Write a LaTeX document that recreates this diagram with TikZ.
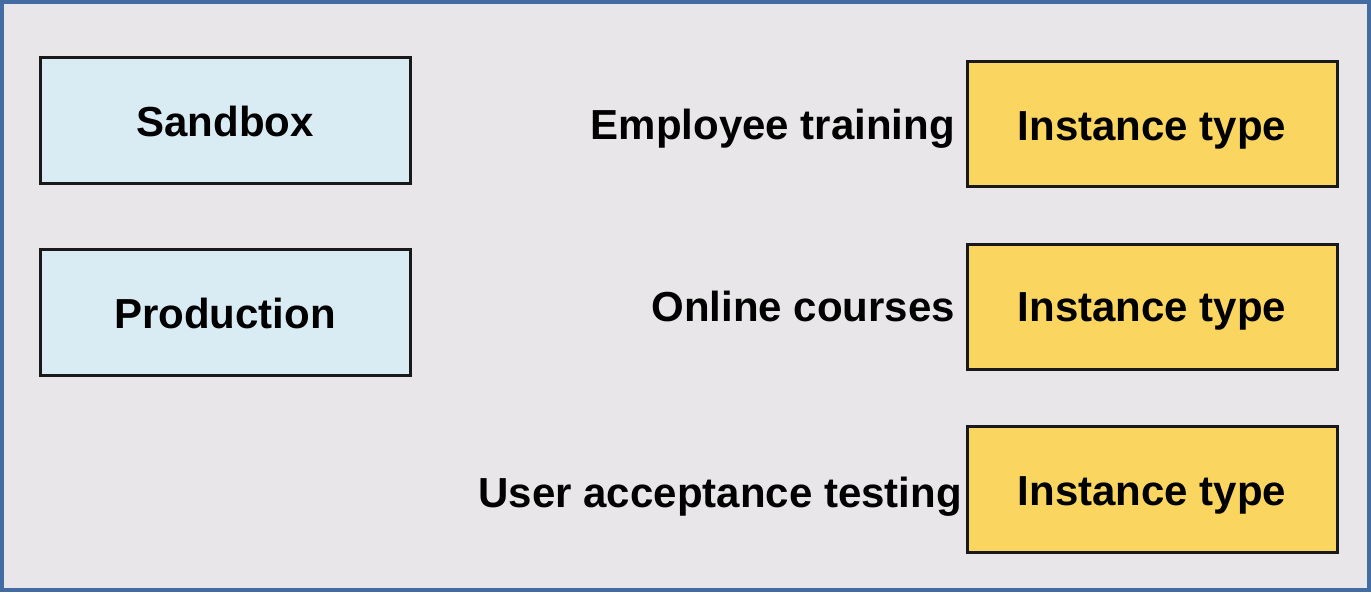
\documentclass[tikz,border=0pt]{standalone}
\usepackage{fontspec}
\setmainfont{Liberation Sans}
\definecolor{bgc}{RGB}{232,230,232}
\definecolor{framec}{RGB}{66,108,162}
\definecolor{bluebox}{RGB}{217,236,244}
\definecolor{yellowbox}{RGB}{250,213,95}
\tikzset{
  boxstyle/.style={draw=black!90, line width=3pt},
  lbl/.style={font=\fontsize{42}{50}\selectfont\bfseries, inner sep=0pt, anchor=base},
  sidelbl/.style={font=\fontsize{42}{50}\selectfont\bfseries, inner sep=0pt, anchor=base east}
}
\begin{document}
\begin{tikzpicture}[x=1pt,y=-1pt]
\useasboundingbox (0,0) rectangle (1371,592);
\draw[fill=bgc, draw=framec, line width=3.5pt] (2,2) rectangle (1369,590);
% left boxes
\draw[boxstyle, fill=bluebox] (40,57) rectangle (410,183);
\node[lbl] (sandbox) at (225,136) {Sandbox};
\draw[boxstyle, fill=bluebox] (40,249) rectangle (410,375);
\node[lbl] (production) at (225,328) {Production};
% right boxes
\draw[boxstyle, fill=yellowbox] (967,61) rectangle (1337,186);
\node[lbl] (inst1) at (1152,140) {Instance type};
\draw[boxstyle, fill=yellowbox] (967,244) rectangle (1337,369);
\node[lbl] (inst2) at (1152,321) {Instance type};
\draw[boxstyle, fill=yellowbox] (967,426) rectangle (1337,552);
\node[lbl] (inst3) at (1152,505) {Instance type};
% side labels
\node[sidelbl] (emp) at (955,139) {Employee training};
\node[sidelbl] (onl) at (955,321) {Online courses};
\node[sidelbl] (uat) at (962,507) {User acceptance testing};
\end{tikzpicture}
\end{document}
